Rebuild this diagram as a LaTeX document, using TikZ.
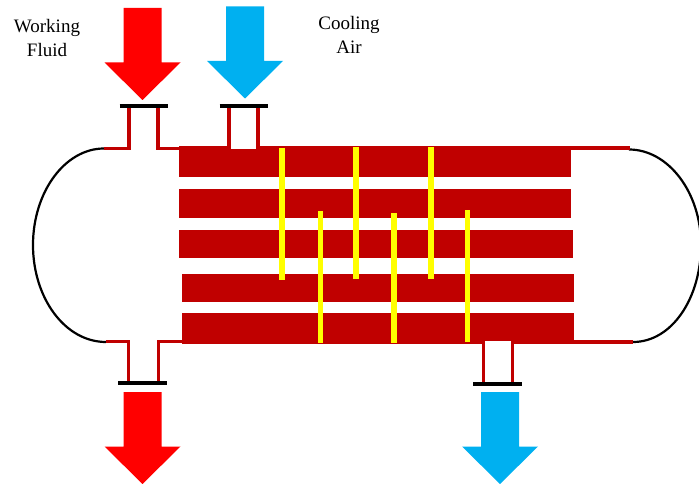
\documentclass[tikz,border=0pt]{standalone}
\usepackage{fontspec}
\setmainfont{Liberation Serif}
\definecolor{hotred}{HTML}{FF0000}
\definecolor{coldblue}{HTML}{00B0F0}
\definecolor{tubered}{HTML}{C00000}
\definecolor{bafyellow}{HTML}{FFFF00}
\tikzset{
  band/.style={fill=tubered,draw=none},
  pipeline/.style={draw=tubered,line width=3.6pt,line join=miter},
  flange/.style={draw=black,line width=4pt},
  baffle/.style={draw=bafyellow,line width=5.5pt},
  shellcurve/.style={draw=black,line width=2.2pt},
  label/.style={font=\fontsize{19}{24}\selectfont,align=center,text=black,inner sep=0pt},
}
\newcommand{\flowarrow}[3]{% colour, centre x, top y
  \fill[#1] (#2-19,#3) -- (#2+19,#3) -- (#2+19,#3+54.5) -- (#2+38,#3+54.5) -- (#2,#3+92) -- (#2-38,#3+54.5) -- (#2-19,#3+54.5) -- cycle;}
\begin{document}
\begin{tikzpicture}[x=1pt,y=-1pt]
\useasboundingbox (0,0) rectangle (699,484);
\clip (0,0) rectangle (699,484);
% shell ends
\draw[shellcurve] (104,148.5) .. controls (65,148.5) and (33,192) .. (33,245) .. controls (33,298) and (65,342) .. (106,342);
\draw[shellcurve] (629,149.5) .. controls (668,149.5) and (701,192) .. (701,245) .. controls (701,298) and (672,342) .. (633,342);
% tube bands
\fill[band] (179,146.5) rectangle (571,176.7);
\fill[band] (179,189.3) rectangle (571,217.7);
\fill[band] (179,230) rectangle (572.5,258.3);
\fill[band] (182,273.7) rectangle (573.5,301.7);
\fill[band] (182,313.3) rectangle (573.5,343.5);
\fill[band] (570,146.3) rectangle (630,150.5);
\fill[band] (570,339.8) rectangle (633,343.5);
% working fluid inlet
\draw[pipeline] (104,148.5) -- (128.7,148.5) -- (128.7,106);
\draw[pipeline] (157.7,106) -- (157.7,148.5) -- (181,148.5);
% cooling air inlet
\fill[white] (230.5,146) rectangle (255.9,149);
\draw[pipeline] (228.7,106) -- (228.7,148);
\draw[pipeline] (257.7,106) -- (257.7,148);
% working fluid outlet
\draw[pipeline] (106,341.5) -- (128.3,341.5) -- (128.3,382);
\draw[pipeline] (158.3,382) -- (158.3,341.5) -- (184,341.5);
% cooling air outlet
\fill[white] (485.1,341) rectangle (510.5,344);
\draw[pipeline] (483.3,342) -- (483.3,384);
\draw[pipeline] (512.3,342) -- (512.3,384);
% flanges
\draw[flange] (119.5,106) -- (168,106);
\draw[flange] (219.5,106) -- (268,106);
\draw[flange] (118,382.5) -- (167,382.5);
\draw[flange] (473,384) -- (521.5,384);
% baffles
\draw[baffle] (282,148) -- (282,280);
\draw[baffle] (320.5,211) -- (320.5,343);
\draw[baffle] (356,147) -- (356,279);
\draw[baffle] (394,213) -- (394,343);
\draw[baffle] (431,147) -- (431,279);
\draw[baffle] (467.5,210) -- (467.5,342);
% flow arrows
\flowarrow{hotred}{142.5}{8}
\flowarrow{coldblue}{245}{6.5}
\flowarrow{hotred}{142.5}{392}
\flowarrow{coldblue}{500}{392}
% labels
\node[label] (wf) at (47,38.5) {Working\\Fluid};
\node[label] (ca) at (349,34.5) {Cooling\\Air};
\end{tikzpicture}
\end{document}
